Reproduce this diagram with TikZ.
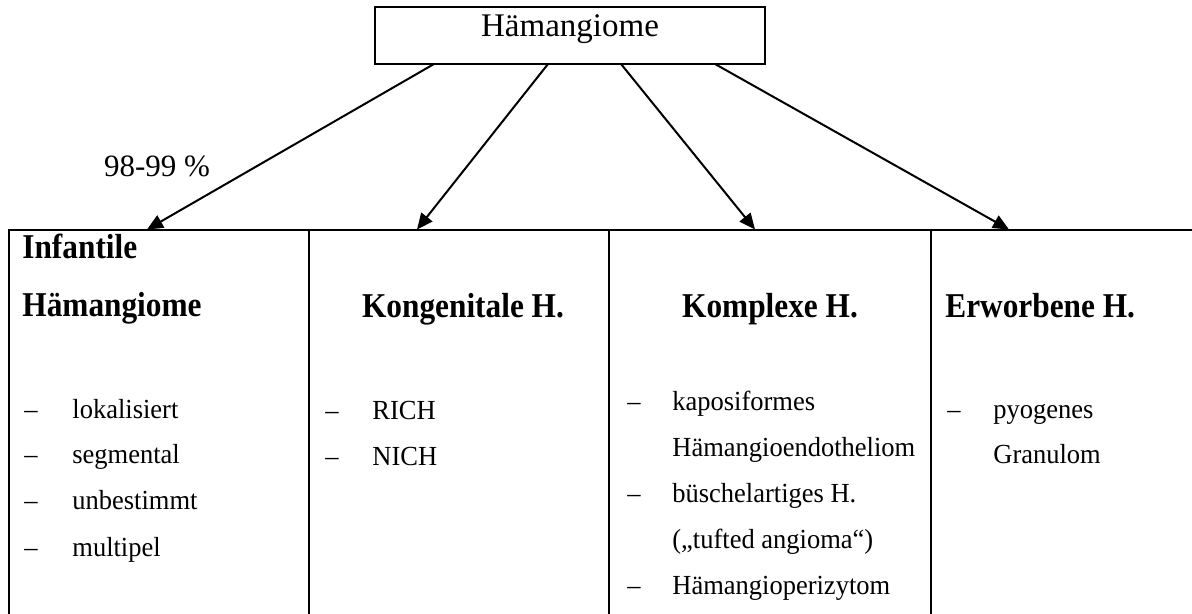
\documentclass[tikz,border=0pt]{standalone}
\usepackage{fontspec}
\setmainfont{Liberation Serif}
\newfontfamily\headfont[FakeStretch=0.9]{Liberation Serif}
\newfontfamily\bodyfont[FakeStretch=0.96]{Liberation Serif}
\usetikzlibrary{arrows.meta}
\begin{document}
\begin{tikzpicture}[x=0.5pt,y=-0.5pt,
  big/.style={font=\fontsize{16.5}{19}\selectfont, inner sep=0pt},
  lbl/.style={font=\fontsize{15.5}{18}\selectfont, inner sep=0pt},
  head/.style={font=\headfont\fontsize{17.4}{20}\selectfont\bfseries, inner sep=0pt},
  body/.style={font=\bodyfont\fontsize{13.8}{16}\selectfont, inner sep=0pt},
  conn/.style={-{Triangle[length=8pt,width=7pt]}, line width=1.0pt},
  rule/.style={line width=1.2pt}]
\useasboundingbox (0,0) rectangle (1192,614);
% top box
\node[draw, line width=1.4pt, minimum width=195pt, minimum height=28.5pt, inner sep=0pt] (top) at (570,35.5) {};
\node[big, anchor=base] (toptext) at (570,37) {Hämangiome};
% table frame
\coordinate (tl) at (8,230);
\coordinate (tr) at (1192,230);
\draw[rule] (tl) -- (tr);
\foreach \x/\n in {9/v1,309/v2,609/v3,931/v4}{
  \coordinate (\n t) at (\x,230);
  \coordinate (\n b) at (\x,614);
  \draw[rule] (\n t) -- (\n b);
}
% connectors
\coordinate (a1s) at (434,64);
\coordinate (a2s) at (548,64);
\coordinate (a3s) at (621,64);
\coordinate (a4s) at (715,64);
\coordinate (a1e) at (147,229.5);
\coordinate (a2e) at (417,229.5);
\coordinate (a3e) at (755,229.5);
\coordinate (a4e) at (1009,229.5);
\draw[conn] (a1s) -- (a1e);
\draw[conn] (a2s) -- (a2e);
\draw[conn] (a3s) -- (a3e);
\draw[conn] (a4s) -- (a4e);
\node[lbl, anchor=base] (pct) at (157,177) {98-99 \%};
% column 1
\node[head, anchor=base west] (h1a) at (22,259) {Infantile};
\node[head, anchor=base west] (h1b) at (22,316) {Hämangiome};
\foreach \y/\t/\n in {418/lokalisiert/c1a,463/segmental/c1b,509/unbestimmt/c1c,556/multipel/c1d}{
  \node[body, anchor=base] (\n d) at (31,\y) {–};
  \node[body, anchor=base west] (\n) at (72,\y) {\t};
}
% column 2
\node[head, anchor=base] (h2) at (463,317) {Kongenitale H.};
\foreach \y/\t/\n in {419/RICH/c2a,465/NICH/c2b}{
  \node[body, anchor=base] (\n d) at (332,\y) {–};
  \node[body, anchor=base west] (\n) at (372,\y) {\t};
}
% column 3
\node[head, anchor=base] (h3) at (770,317) {Komplexe H.};
\foreach \y/\t/\n in {410/kaposiformes/c3a,456/Hämangioendotheliom/c3b,502/büschelartiges H./c3c,548/{(„tufted angioma“)}/c3d,594/Hämangioperizytom/c3e}{
  \node[body, anchor=base west] (\n) at (672,\y) {\t};
}
\node[body, anchor=base] (c3ad) at (634,410) {–};
\node[body, anchor=base] (c3cd) at (634,502) {–};
\node[body, anchor=base] (c3ed) at (634,594) {–};
% column 4
\node[head, anchor=base west] (h4) at (945,317) {Erworbene H.};
\node[body, anchor=base] (c4ad) at (954,418) {–};
\node[body, anchor=base west] (c4a) at (993,418) {pyogenes};
\node[body, anchor=base west] (c4b) at (993,463) {Granulom};
\end{tikzpicture}
\end{document}
